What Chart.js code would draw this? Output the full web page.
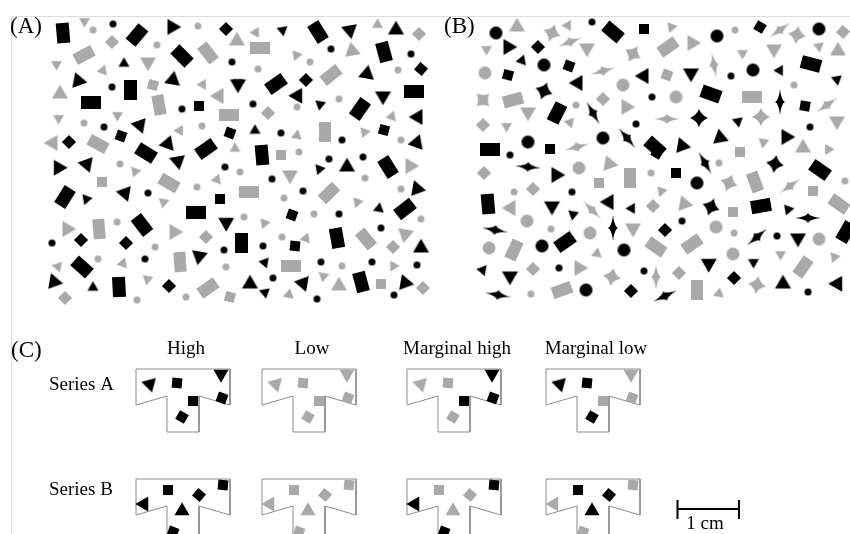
<!DOCTYPE html>
<html>
<head>
<meta charset="utf-8">
<script src="https://cdn.jsdelivr.net/npm/chart.js@4.4.1/dist/chart.umd.min.js"></script>
<style>
  html, body { margin: 0; padding: 0; background: #fff; }
  canvas { display: block; }
</style>
</head>
<body>
<canvas id="figCanvas" width="850" height="534"></canvas>
<script>
// ---- panel A : [x, y, angle] in figure units ----
const aBlackRect = [[63,33,85],[137,35,-50],[182,56,45],[130,90,90],[91,102,0],[146,153,32],[206,149,-35],
  [318,32,58],[384,52,75],[276,84,-35],[414,91,0],[360,109,-55],[262,155,85],[65,197,-58],[196,212,0],
  [142,225,52],[82,267,42],[119,287,87],[241,243,90],[388,167,58],[405,209,-38],[337,238,80],[361,282,75]];
const aGreyRect = [[84,55,-28],[208,53,52],[159,105,80],[229,115,0],[98,144,28],[260,48,0],[331,75,-38],
  [325,132,90],[169,183,30],[99,229,85],[180,262,86],[208,288,-35],[249,192,0],[329,193,-45],[366,239,50],[291,266,0]];
const aBlackTri = [[173,27,90],[78,80,-20],[173,79,10],[238,85,180],[140,126,160],[168,143,20],[350,31,170],
  [396,29,0],[367,73,10],[298,95,30],[383,97,180],[417,117,-90],[417,142,20],[58,167,-30],[87,165,160],
  [178,162,170],[124,193,-80],[227,222,60],[199,257,190],[55,282,100],[347,166,0],[418,189,100],
  [421,247,0],[250,283,0],[302,283,-80],[406,283,100]];
const aBlackTriSmall = [[124,63,0],[282,30,-70],[238,83,180],[320,105,190],[255,130,0],[87,199,80],
  [93,287,0],[320,169,80],[379,208,10],[265,262,40],[265,293,170]];
const aGreyTri = [[237,40,0],[148,63,180],[60,93,0],[218,96,-90],[52,143,-90],[352,50,-10],[68,229,90],
  [175,232,90],[411,166,90],[290,176,180],[405,235,190],[339,285,0]];
const aGreyTriSmall = [[85,21,60],[57,64,60],[103,70,20],[203,84,30],[59,118,60],[117,115,-60],[180,131,150],
  [235,148,0],[256,32,30],[378,25,120],[297,55,80],[392,116,20],[297,135,10],[365,132,80],[135,172,200],
  [217,179,20],[164,202,70],[123,263,20],[58,267,160],[148,279,70],[358,202,80],[265,223,80],[306,238,20],
  [394,266,90],[324,276,70],[289,294,10]];
const aBlackSq = [[226,29,45],[199,106,0],[230,133,20],[69,142,45],[121,136,20],[306,80,45],[421,69,40],
  [384,130,15],[220,199,0],[81,240,45],[126,243,45],[169,286,45],[292,215,20],[295,246,5]];
const aGreySq = [[112,42,45],[153,85,15],[419,34,45],[268,113,45],[281,155,0],[102,182,0],[206,237,45],
  [230,297,15],[65,298,45],[393,247,45],[381,284,0],[423,288,45]];
const aBlackDot = [[113,24],[232,62],[112,87],[182,109],[104,127],[331,49],[411,54],[253,104],[281,133],
  [342,140],[148,193],[225,167],[52,243],[224,250],[145,259],[329,159],[363,157],[272,179],[303,191],
  [339,214],[381,228],[263,246],[321,262],[372,262],[417,265],[273,278],[317,299],[394,295]];
const aGreyDot = [[93,30],[157,45],[198,26],[84,123],[202,126],[310,62],[258,69],[398,70],[339,99],[297,107],
  [401,140],[299,152],[120,164],[240,172],[197,187],[117,222],[244,217],[155,247],[98,259],[226,267],
  [137,300],[186,297],[365,178],[401,189],[284,198],[314,214],[421,219],[282,237],[342,266]];

// ---- panel B ----
const bBlackCircle = [[496,33],[544,65],[528,142],[603,138],[717,36],[819,29],[753,70],[697,183],[542,246],[624,250],[586,290]];
const bGreyCircle = [[485,73],[623,85],[676,97],[579,168],[527,221],[590,233],[489,248],[716,227],[819,239],[733,254]];
const bBlackDot = [[592,22],[636,124],[510,155],[731,76],[652,97],[810,127],[572,192],[559,268],[644,271],[682,221],[777,236],[808,292]];
const bGreyDot = [[576,105],[735,30],[794,85],[514,192],[551,229],[531,294],[719,163],[651,173],[845,181],[734,233]];
const bBlackRect = [[613,32,40],[557,113,-63],[490,149,0],[811,64,15],[711,94,20],[655,147,42],[488,204,85],
  [565,242,-35],[820,170,35],[761,206,-10],[846,232,-60]];
const bGreyRect = [[513,100,-15],[668,47,-35],[752,97,0],[630,178,90],[514,250,-65],[562,290,-20],[755,182,70],
  [839,204,35],[656,247,35],[692,244,-35],[803,267,-55],[697,290,90]];
const bBlackSq = [[644,29,0],[538,47,45],[569,66,20],[508,75,15],[550,149,0],[760,27,30],[805,106,10],
  [657,153,30],[676,173,0],[665,230,45],[734,278,45],[631,291,45]];
const bGreySq = [[603,99,45],[483,125,45],[843,32,40],[667,75,20],[740,152,0],[599,183,0],[533,189,45],
  [484,173,45],[813,191,0],[733,212,0],[653,206,45],[533,269,45],[679,273,45]];
const bBlackTri = [[509,47,90],[643,76,-90],[577,83,-90],[691,74,180],[683,146,100],[721,138,110],[787,137,90],
  [557,175,90],[552,207,180],[608,202,-90],[510,277,180],[798,239,180],[708,263,-60],[783,283,0],[838,283,30]];
const bBlackTriSmall = [[522,60,20],[780,70,30],[837,80,170],[738,122,170],[573,215,190],[632,208,30],
  [482,270,-80],[788,210,200],[754,262,60]];
const bGreyTri = [[517,26,0],[587,49,180],[528,113,180],[627,107,90],[693,43,90],[774,50,180],[838,50,0],
  [837,122,180],[803,147,0],[609,163,-20],[510,208,-90],[633,229,180],[580,268,90],[684,203,-20]];
const bGreyTriSmall = [[568,25,30],[487,49,60],[507,126,60],[570,123,160],[672,27,80],[743,53,60],[819,47,170],
  [764,142,70],[828,149,-30],[597,253,10],[662,191,80],[781,254,60],[835,257,80],[719,293,10]];
const bBlackStar = [[544,91,20],[699,118,0],[775,164,10],[711,207,20]];
const bBlackStarLong = [[593,113,60],[627,138,50],[780,102,90],[528,167,5],[613,228,90],[495,230,10],
  [498,295,10],[705,163,60],[808,218,0],[757,237,-40],[665,296,-25]];
const bGreyStar = [[552,33,20],[633,54,30],[483,100,45],[797,35,10],[761,117,0],[612,277,10],[729,183,20],[757,285,10]];
const bGreyStarLong = [[570,42,-20],[603,71,-15],[577,147,-15],[780,30,-35],[714,65,80],[827,105,-35],
  [667,119,0],[592,210,45],[790,186,-35],[656,277,90]];

// ---- panel C ----
const conditions = ['High', 'Low', 'Marginal high', 'Marginal low'];
const seriesNames = ['Series A', 'Series B'];
const tLeft = [136, 262, 407, 546];
const tTop = [369, 479];
const tOutline = [[0,0],[94,0],[94,36],[63,27],[63,63],[31,63],[31,27],[0,36],[0,0]];
// marks inside each T: [dx, dy, angle]; black flags per condition
const cTriangles = [
  [[14,16,165],[85,6,180]],
  [[7,25,-90],[46,31,0]]
];
const cSquares = [
  [[41,14,5],[57,32,0],[86,29,20],[46,48,30]],
  [[32,11,0],[63,16,40],[87,6,5],[37,53,20]]
];
const cTriBlack = [
  [[1,1],[0,0],[0,1],[1,0]],
  [[1,1],[0,0],[1,0],[0,1]]
];
const cSqBlack = [
  [[1,1,1,1],[0,0,0,0],[0,1,1,0],[1,0,0,1]],
  [[1,1,1,1],[0,0,0,0],[0,0,1,1],[1,1,0,0]]
];

const GREY = '#a9a9a9';
const BLACK = '#000';

function makeMark(kind, color, a, b) {
  const cv = document.createElement('canvas');
  let g;
  if (kind === 'rect') {
    cv.width = a; cv.height = b;
    g = cv.getContext('2d');
    g.fillStyle = color;
    g.fillRect(0, 0, a, b);
  } else if (kind === 'tri') {
    const R = a / Math.sqrt(3);
    const D = Math.ceil(2 * R) + 2;
    cv.width = cv.height = D;
    g = cv.getContext('2d');
    g.fillStyle = color;
    g.beginPath();
    for (let i = 0; i < 3; i++) {
      const t = -Math.PI / 2 + i * 2 * Math.PI / 3;
      g.lineTo(D / 2 + R * Math.cos(t), D / 2 + R * Math.sin(t) + R * 0.1);
    }
    g.closePath();
    g.fill();
  } else if (kind === 'dot') {
    const D = Math.ceil(a) + 2;
    cv.width = cv.height = D;
    g = cv.getContext('2d');
    g.fillStyle = color;
    g.beginPath();
    g.arc(D / 2, D / 2, a / 2, 0, Math.PI * 2);
    g.fill();
  } else if (kind === 'star') {
    cv.width = 2 * a + 2; cv.height = 2 * b + 2;
    g = cv.getContext('2d');
    const cx = a + 1, cy = b + 1, w = Math.min(a, b) * 0.28;
    g.fillStyle = color;
    g.beginPath();
    g.moveTo(cx + a, cy);
    g.quadraticCurveTo(cx + w, cy + w, cx, cy + b);
    g.quadraticCurveTo(cx - w, cy + w, cx - a, cy);
    g.quadraticCurveTo(cx - w, cy - w, cx, cy - b);
    g.quadraticCurveTo(cx + w, cy - w, cx + a, cy);
    g.fill();
  }
  return cv;
}

const img = {
  rectK: makeMark('rect', BLACK, 20, 13), rectG: makeMark('rect', GREY, 20, 12),
  triK: makeMark('tri', BLACK, 16), triKs: makeMark('tri', BLACK, 11),
  triG: makeMark('tri', GREY, 16), triGs: makeMark('tri', GREY, 11),
  sqK: makeMark('rect', BLACK, 10, 10), sqG: makeMark('rect', GREY, 10, 10),
  dotK: makeMark('dot', BLACK, 7), dotG: makeMark('dot', GREY, 7),
  circK: makeMark('dot', BLACK, 13), circG: makeMark('dot', GREY, 13),
  starK: makeMark('star', BLACK, 9, 9), starKl: makeMark('star', BLACK, 13, 5),
  starG: makeMark('star', GREY, 9, 9), starGl: makeMark('star', GREY, 13, 5),
  cTriK: makeMark('tri', BLACK, 15), cTriG: makeMark('tri', GREY, 15),
  cSqK: makeMark('rect', BLACK, 10, 10), cSqG: makeMark('rect', GREY, 10, 10)
};

function marks(list, style) {
  return {
    data: list.map(p => ({ x: p[0], y: p[1], a: p[2] || 0 })),
    pointStyle: style,
    pointRadius: 6,
    rotation: c => (c.raw ? c.raw.a : 0),
    showLine: false
  };
}

function polyline(pts, color, width) {
  return {
    data: pts.map(p => ({ x: p[0], y: p[1] })),
    showLine: true,
    borderColor: color,
    borderWidth: width,
    pointRadius: 0,
    tension: 0,
    fill: false
  };
}

// panel C marks, split by colour
const cTriK = [], cTriG = [], cSqK = [], cSqG = [];
tTop.forEach((top, r) => {
  tLeft.forEach((left, c) => {
    cTriangles[r].forEach((m, i) => {
      (cTriBlack[r][c][i] ? cTriK : cTriG).push([left + m[0], top + m[1], m[2]]);
    });
    cSquares[r].forEach((m, i) => {
      (cSqBlack[r][c][i] ? cSqK : cSqG).push([left + m[0], top + m[1], m[2]]);
    });
  });
});

const datasets = [
  marks(aBlackRect, img.rectK), marks(aGreyRect, img.rectG),
  marks(aBlackTri, img.triK), marks(aBlackTriSmall, img.triKs),
  marks(aGreyTri, img.triG), marks(aGreyTriSmall, img.triGs),
  marks(aBlackSq, img.sqK), marks(aGreySq, img.sqG),
  marks(aBlackDot, img.dotK), marks(aGreyDot, img.dotG),
  marks(bBlackCircle, img.circK), marks(bGreyCircle, img.circG),
  marks(bBlackDot, img.dotK), marks(bGreyDot, img.dotG),
  marks(bBlackRect, img.rectK), marks(bGreyRect, img.rectG),
  marks(bBlackSq, img.sqK), marks(bGreySq, img.sqG),
  marks(bBlackTri, img.triK), marks(bBlackTriSmall, img.triKs),
  marks(bGreyTri, img.triG), marks(bGreyTriSmall, img.triGs),
  marks(bBlackStar, img.starK), marks(bBlackStarLong, img.starKl),
  marks(bGreyStar, img.starG), marks(bGreyStarLong, img.starGl),
  marks(cTriK, img.cTriK), marks(cTriG, img.cTriG),
  marks(cSqK, img.cSqK), marks(cSqG, img.cSqG)
];

// T outlines
tTop.forEach(top => {
  tLeft.forEach(left => {
    datasets.push(polyline(tOutline.map(p => [left + p[0], top + p[1]]), '#8c8c8c', 1));
  });
});

// scale bar (1 cm) and figure frame
datasets.push(polyline([[677, 509], [739, 509]], BLACK, 2));
datasets.push(polyline([[677.5, 500], [677.5, 519]], BLACK, 2));
datasets.push(polyline([[739, 500], [739, 519]], BLACK, 2));
datasets.push(polyline([[11.5, 534], [11.5, 16.5], [850, 16.5]], '#dcdcdc', 1));

const figureText = {
  id: 'figureText',
  afterDraw(chart) {
    const ctx = chart.ctx;
    const x = chart.scales.x, y = chart.scales.y;
    ctx.save();
    ctx.fillStyle = '#000';
    ctx.textBaseline = 'alphabetic';
    ctx.font = '23px "Liberation Serif", "DejaVu Serif", serif';
    ctx.textAlign = 'left';
    ctx.fillText('(A)', x.getPixelForValue(10), y.getPixelForValue(33));
    ctx.fillText('(B)', x.getPixelForValue(444), y.getPixelForValue(33));
    ctx.fillText('(C)', x.getPixelForValue(11), y.getPixelForValue(357));

    ctx.font = '19px "Liberation Serif", "DejaVu Serif", serif';
    ctx.textAlign = 'center';
    conditions.forEach((name, i) => {
      ctx.fillText(name, x.getPixelForValue(tLeft[i] + 50), y.getPixelForValue(354));
    });
    ctx.textAlign = 'left';
    ctx.fillText(seriesNames[0], x.getPixelForValue(49), y.getPixelForValue(390));
    ctx.fillText(seriesNames[1], x.getPixelForValue(49), y.getPixelForValue(495));
    ctx.textAlign = 'center';
    ctx.fillText('1 cm', x.getPixelForValue(705), y.getPixelForValue(529));
    ctx.restore();
  }
};

new Chart(document.getElementById('figCanvas').getContext('2d'), {
  type: 'scatter',
  data: { datasets: datasets },
  options: {
    responsive: false,
    animation: false,
    events: [],
    devicePixelRatio: 1,
    layout: { padding: 0, autoPadding: false },
    scales: {
      x: { type: 'linear', min: 0, max: 850, display: false },
      y: { type: 'linear', min: 0, max: 534, reverse: true, display: false }
    },
    plugins: {
      legend: { display: false },
      tooltip: { enabled: false }
    }
  },
  plugins: [figureText]
});
</script>
</body>
</html>
